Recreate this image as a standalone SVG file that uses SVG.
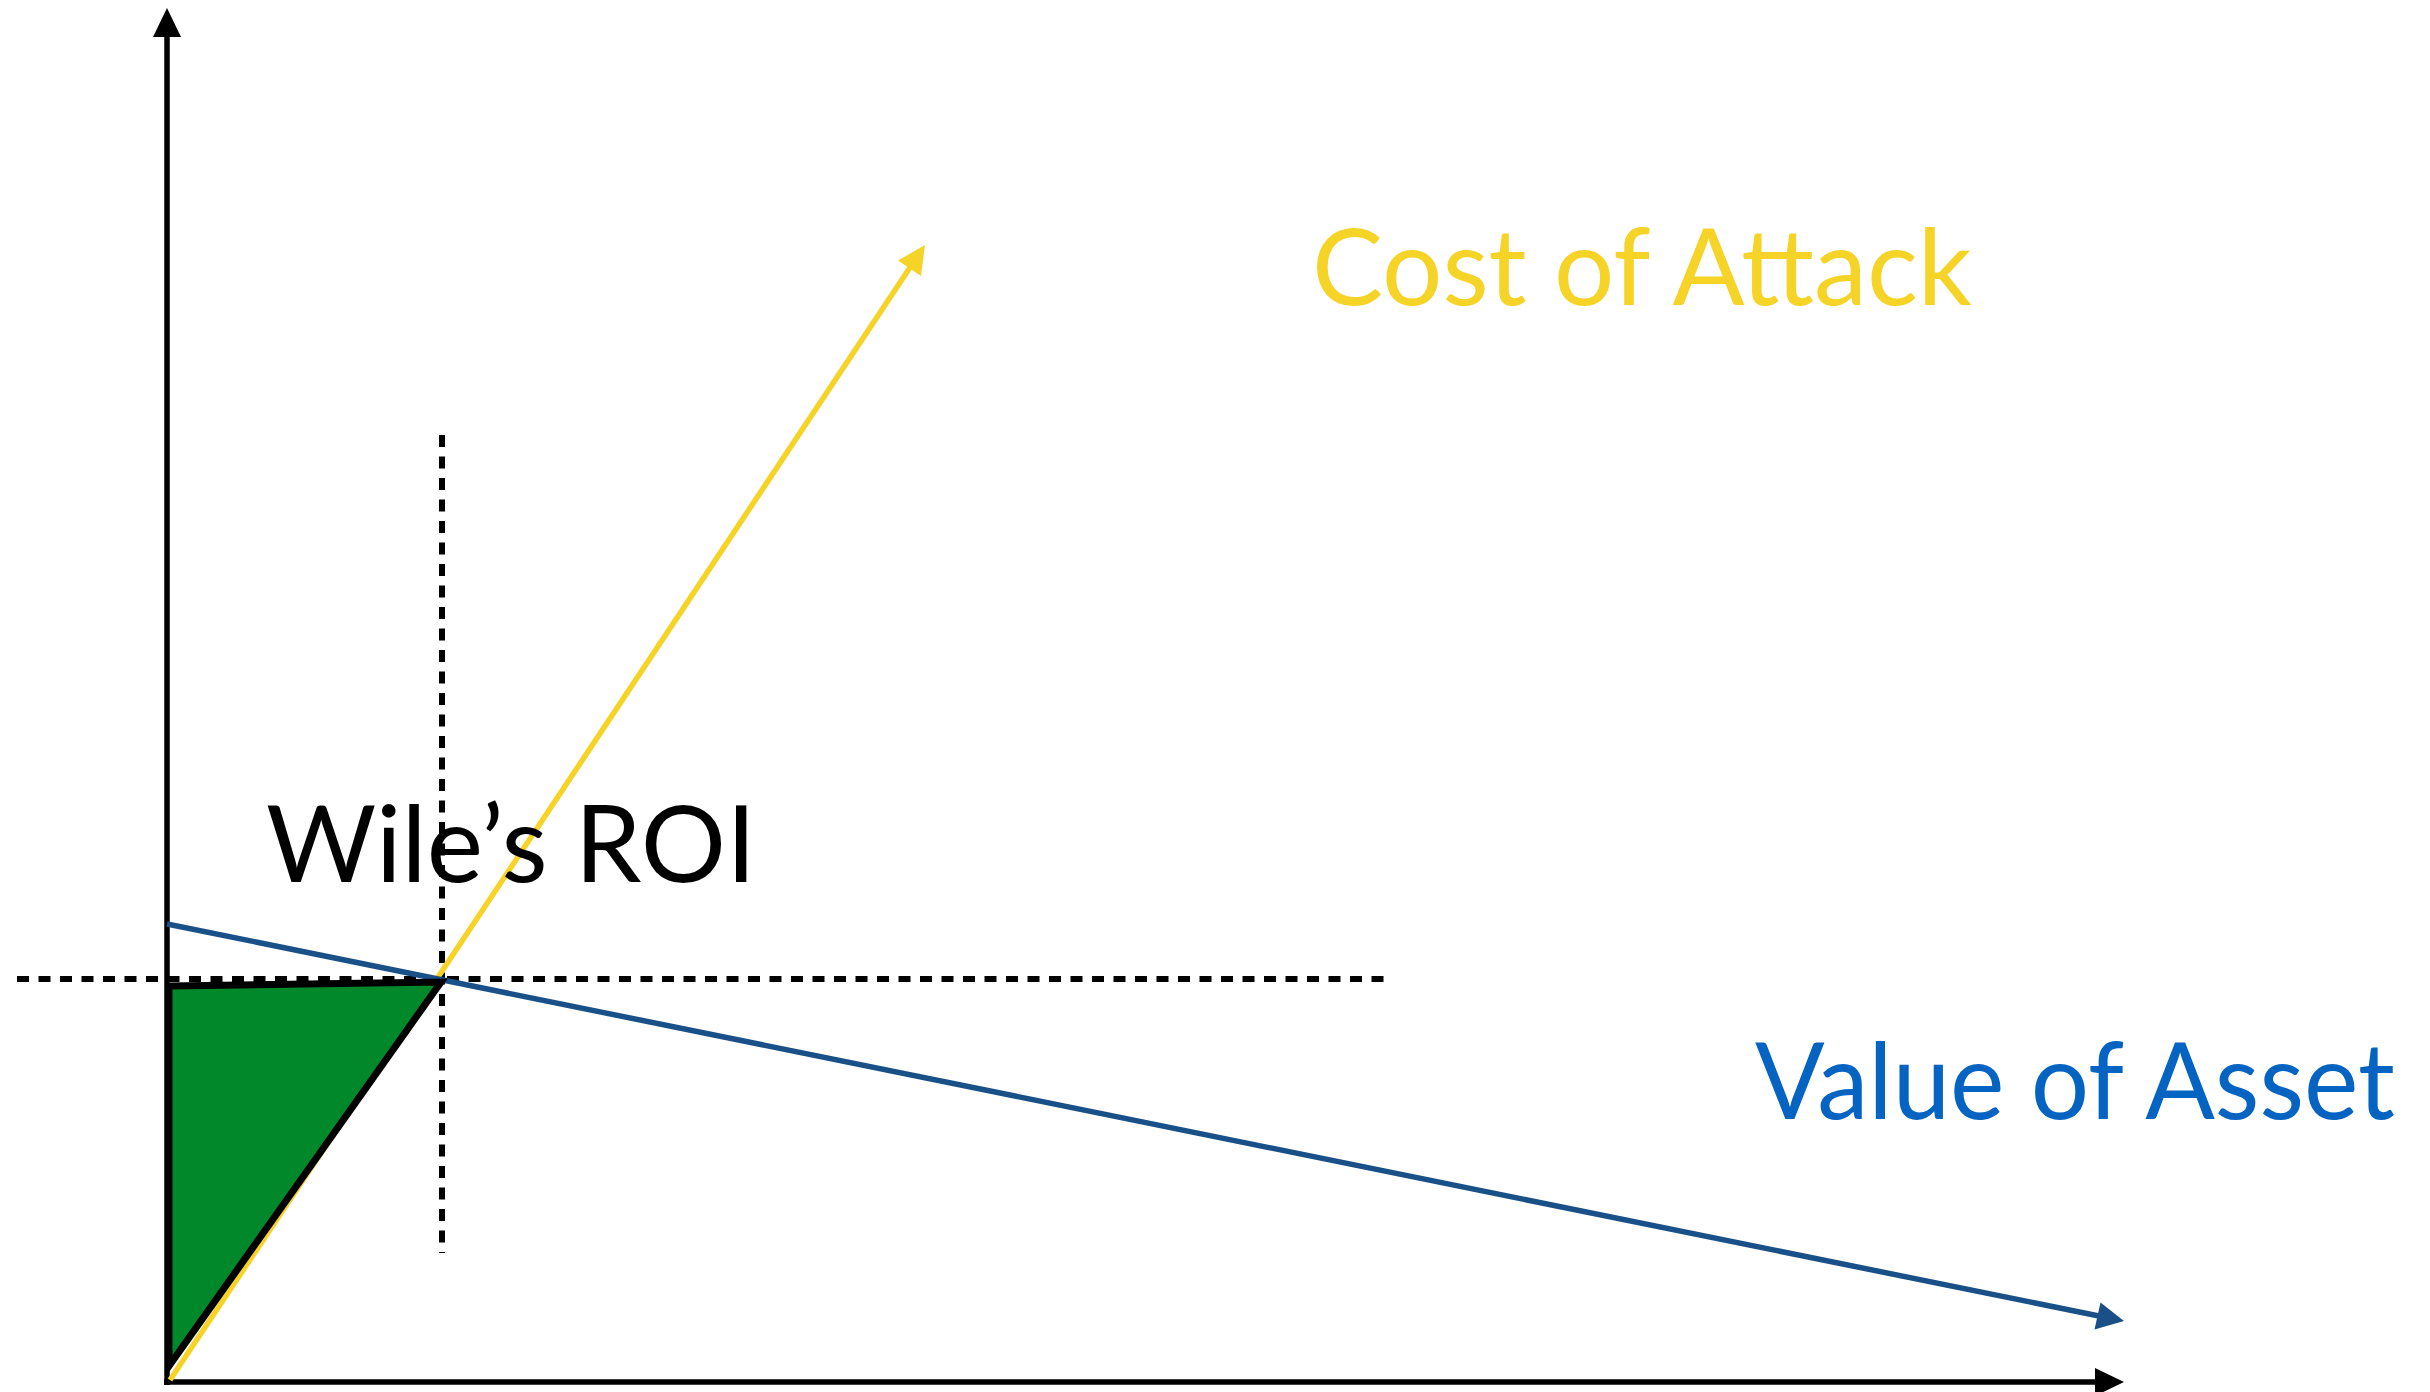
<svg xmlns="http://www.w3.org/2000/svg" width="2430" height="1392" viewBox="0 0 2430 1392">
<style>
.lbl{font-family:Lato,"Open Sans","Liberation Sans",sans-serif;font-size:106px}
.dash{stroke:#000;stroke-width:6;stroke-dasharray:12 9.5;fill:none}
.ln{stroke-width:5.5;fill:none}
</style>
<rect width="2430" height="1392" fill="#fff"/>
<g id="connectors">
<line class="ln" stroke="#000" stroke-width="6" x1="167" y1="1385" x2="167" y2="34"/>
<polygon points="167,8 181,37 153,37" fill="#000"/>
<line class="ln" stroke="#000" stroke-width="6" x1="164" y1="1382" x2="2098" y2="1382"/>
<polygon points="2124,1382 2095,1368 2095,1396" fill="#000"/>
<line class="dash" x1="17" y1="979" x2="1393" y2="979"/>
<line class="dash" x1="442" y1="435" x2="442" y2="1253"/>
<line class="ln" stroke="#F5D327" x1="170" y1="1380" x2="911" y2="266"/>
<polygon points="925,245 921,276 898,260.5" fill="#F5D327"/>
<line class="ln" stroke="#1A5088" x1="167" y1="924" x2="2099" y2="1316"/>
<polygon points="2124,1321 2094.5,1329.5 2100.5,1302.5" fill="#1A5088"/>
</g>
<g id="roi-area">
<polygon points="169,986 441,982 169,1366" fill="#00882B" stroke="#000" stroke-width="7" stroke-linejoin="miter"/>
</g>
<g id="label-cost">
<text class="lbl" x="1312" y="305" fill="#F5D327" textLength="660" lengthAdjust="spacingAndGlyphs">Cost of Attack</text>
</g>
<g id="label-value">
<text class="lbl" x="1755" y="1119" fill="#0563C1" textLength="640" lengthAdjust="spacingAndGlyphs">Value of Asset</text>
</g>
<g id="label-roi">
<text class="lbl" x="266" y="882" fill="#000" textLength="490" lengthAdjust="spacingAndGlyphs">Wile’s ROI</text>
</g>
</svg>
